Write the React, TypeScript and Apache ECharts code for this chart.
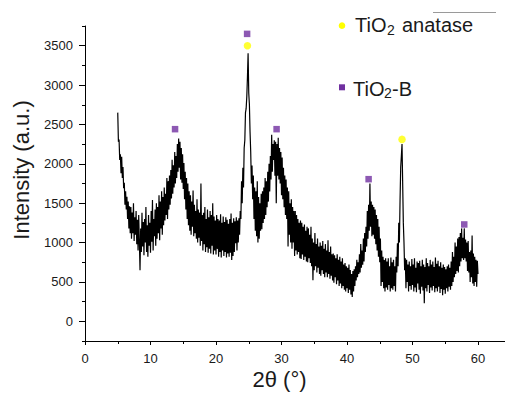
import React, { useEffect, useRef } from "react";
import * as echarts from "echarts";

// 2θ grid: START + i * STEP (degrees)
const START = 5.0;
const STEP = 0.1;

// Intensity, 10 values per degree (x.0 … x.9)
const intensity05_14: number[] = [
  2650, 2280, 2310, 2050, 2120, 1880, 2090, 1820, 1960, 1690,
  1760, 1480, 1650, 1420, 1580, 1300, 1520, 1180, 1460, 1120,
  1450, 1050, 1380, 1120, 1500, 1020, 1320, 1100, 1400, 980,
  1290, 900, 1350, 1010, 650, 1180, 880, 1380, 950, 1260,
  840, 1300, 1000, 1450, 880, 1220, 820, 1350, 960, 1250,
  870, 1400, 1010, 1540, 900, 1300, 1080, 1420, 960, 1500,
  1050, 1450, 1120, 1600, 1030, 1520, 1180, 1650, 1100, 1580,
  1220, 1700, 1280, 1620, 1350, 1820, 1300, 1780, 1420, 1850,
  1480, 1920, 1560, 2050, 1620, 1980, 1700, 2150, 1750, 2100,
  1820, 2250, 1900, 2320, 1950, 2280, 1800, 2200, 1760, 2120,
];
const intensity15_24: number[] = [
  1680, 2010, 1550, 1900, 1420, 1820, 1300, 1750, 1220, 1650,
  1150, 1600, 1100, 1520, 1200, 1660, 1080, 1480, 1120, 1400,
  1050, 1550, 1000, 1420, 1060, 1380, 960, 1750, 1020, 1350,
  900, 1380, 980, 1450, 880, 1300, 940, 1420, 870, 1320,
  920, 1400, 860, 1350, 960, 1500, 850, 1330, 900, 1280,
  850, 1350, 920, 1300, 820, 1280, 880, 1360, 810, 1250,
  900, 1330, 830, 1260, 880, 1320, 810, 1290, 860, 1240,
  820, 1300, 870, 1370, 780, 1250, 830, 1310, 880, 1270,
  990, 1320, 900, 1280, 1000, 1310, 1100, 1400, 1300, 1780,
  1500, 1950, 1700, 2200, 2300, 2650, 2700, 2850, 3100, 3405,
];
const intensity25_34: number[] = [
  2900, 2750, 2400, 2150, 1750, 1980, 1550, 1850, 1300, 1700,
  1150, 1650, 1080, 1780, 1000, 1580, 1050, 1500, 1150, 1620,
  1170, 1650, 1250, 1700, 1300, 1820, 1350, 1780, 1450, 1900,
  1520, 2000, 1650, 2100, 1800, 2370, 1900, 2250, 2050, 2300,
  1850, 2280, 1500, 2250, 1850, 2330, 1800, 2200, 1750, 2150,
  1600, 2080, 1550, 1950, 1450, 1850, 1350, 1800, 1300, 1700,
  950, 1650, 1100, 1500, 1000, 1550, 920, 1450, 1000, 1400,
  830, 1400, 900, 1350, 850, 1300, 880, 1250, 800, 1280,
  790, 1250, 850, 1200, 780, 1230, 820, 1150, 760, 1200,
  750, 1180, 800, 1100, 740, 1200, 700, 1050, 520, 1000,
];
const intensity35_44: number[] = [
  650, 1120, 700, 980, 620, 1050, 680, 950, 600, 1000,
  580, 960, 650, 1020, 600, 920, 560, 980, 620, 900,
  560, 1030, 600, 880, 540, 950, 580, 850, 520, 860,
  490, 840, 560, 800, 470, 850, 520, 780, 450, 820,
  480, 760, 420, 800, 450, 720, 400, 740, 380, 700,
  420, 680, 360, 720, 400, 650, 340, 600, 310, 640,
  380, 660, 450, 700, 520, 780, 560, 750, 600, 850,
  620, 980, 680, 900, 720, 1050, 760, 1120, 880, 1200,
  950, 1400, 1050, 1480, 1150, 1750, 1200, 1520, 1080, 1480,
  1100, 1450, 1050, 1420, 980, 1350, 900, 1300, 820, 1200,
];
const intensity45_54: number[] = [
  750, 1050, 450, 900, 500, 820, 420, 780, 380, 800,
  430, 760, 400, 800, 460, 700, 380, 810, 420, 750,
  400, 780, 450, 700, 380, 820, 620, 990, 700, 1250,
  1000, 1540, 1960, 2100, 2250, 1750, 1250, 1000, 650, 800,
  420, 780, 500, 720, 380, 760, 450, 700, 400, 790,
  460, 720, 380, 800, 430, 680, 370, 760, 480, 740,
  400, 770, 350, 700, 440, 780, 390, 720, 230, 690,
  420, 800, 380, 740, 460, 700, 360, 780, 430, 720,
  390, 760, 450, 690, 370, 810, 420, 730, 380, 770,
  440, 700, 360, 750, 410, 680, 330, 720, 400, 690,
];
const intensity55_60: number[] = [
  350, 660, 420, 700, 380, 720, 440, 680, 400, 760,
  450, 880, 500, 820, 560, 1000, 600, 950, 640, 1050,
  620, 1070, 700, 1120, 760, 1180, 800, 1060, 780, 1180,
  800, 1040, 760, 1000, 640, 1020, 620, 880, 500, 900,
  560, 1090, 480, 860, 450, 820, 500, 780, 440, 770,
  600,
];

// Peak markers [2θ, intensity]
const tio2B: [number, number][] = [
  [13.75, 2440],
  [24.75, 3650],
  [29.25, 2440],
  [43.3, 1805],
  [57.9, 1230],
];
const anatase: [number, number][] = [
  [24.8, 3500],
  [48.4, 2310],
];

// Axis ticks / labels
const Y_MAJOR = [0, 500, 1000, 1500, 2000, 2500, 3000, 3500];
const X_LABELS = [0, 10, 20, 30, 40, 50, 60];

const PURPLE = "#7030A0";
const YELLOW = "#FFFF00";
const FONT = '"Liberation Sans", Arial, sans-serif';

export default function App() {
  const ref = useRef<HTMLDivElement>(null);

  useEffect(() => {
    if (!ref.current) return;
    const chart = echarts.init(ref.current, undefined, { renderer: "svg" });

    const values = [
      ...intensity05_14,
      ...intensity15_24,
      ...intensity25_34,
      ...intensity35_44,
      ...intensity45_54,
      ...intensity55_60,
    ];
    const pattern = values.map((v, i) => [
      Math.round((START + i * STEP) * 10) / 10,
      v,
    ]);

    const axisColor = "#000";
    const labelColor = "#1a1a1a";

    chart.setOption({
      animation: false,
      grid: {
        left: 85,
        top: 26,
        width: 458.5,
        height: 315,
        containLabel: false,
        outerBoundsMode: "none",
      },
      xAxis: {
        type: "value",
        min: 0,
        max: 70,
        interval: 10,
        axisLine: { show: true, onZero: false, lineStyle: { color: axisColor, width: 1 } },
        axisTick: { show: true, inside: false, length: 4, lineStyle: { color: axisColor } },
        minorTick: { show: true, splitNumber: 2, length: 3, lineStyle: { color: axisColor } },
        splitLine: { show: false },
        minorSplitLine: { show: false },
        axisLabel: {
          margin: 11,
          fontSize: 13,
          fontFamily: FONT,
          color: labelColor,
          formatter: (v: number) => (X_LABELS.indexOf(v) >= 0 ? String(v) : ""),
        },
      },
      yAxis: [
        {
          type: "value",
          min: -250,
          max: 3750,
          position: "left",
          axisLine: { show: true, onZero: false, lineStyle: { color: axisColor, width: 1 } },
          axisTick: { show: true, length: 6, customValues: Y_MAJOR, lineStyle: { color: axisColor } },
          splitLine: { show: false },
          axisLabel: {
            customValues: Y_MAJOR,
            margin: 12,
            fontSize: 13,
            fontFamily: FONT,
            color: labelColor,
            formatter: (v: number) => String(v),
          },
        },
        {
          type: "value",
          min: -250,
          max: 3750,
          interval: 250,
          position: "left",
          axisLine: { show: false },
          axisTick: { show: true, length: 3, lineStyle: { color: axisColor } },
          axisLabel: { show: false },
          splitLine: { show: false },
        },
      ],
      series: [
        {
          type: "line",
          data: pattern,
          showSymbol: false,
          symbol: "none",
          lineStyle: { color: "#000", width: 1.2 },
          z: 2,
        },
        {
          type: "scatter",
          data: tio2B,
          symbol: "rect",
          symbolSize: 6.5,
          itemStyle: { color: PURPLE },
          z: 3,
        },
        {
          type: "scatter",
          data: anatase,
          symbol: "circle",
          symbolSize: 7.5,
          itemStyle: { color: YELLOW },
          z: 3,
        },
      ],
      graphic: [
        {
          type: "text",
          x: 21.5,
          y: 170,
          rotation: Math.PI / 2,
          style: {
            text: "Intensity (a.u.)",
            font: `22px ${FONT}`,
            fill: "#1a1a1a",
            align: "center",
            verticalAlign: "middle",
          },
        },
        {
          type: "text",
          x: 279.5,
          y: 379,
          style: {
            text: "2θ (°)",
            font: `22px ${FONT}`,
            fill: "#1a1a1a",
            align: "center",
            verticalAlign: "middle",
          },
        },
        {
          type: "line",
          shape: { x1: 433, y1: 12.5, x2: 496, y2: 12.5 },
          style: { stroke: "#9a9a9a", lineWidth: 1 },
        },
        {
          type: "circle",
          shape: { cx: 342, cy: 25.7, r: 3.3 },
          style: { fill: YELLOW },
        },
        { type: "text", x: 355, y: 25.4, style: { text: "TiO", font: `20px ${FONT}`, fill: "#1a1a1a", align: "left", verticalAlign: "middle" } },
        { type: "text", x: 387, y: 29.5, style: { text: "2", font: `14px ${FONT}`, fill: "#1a1a1a", align: "left", verticalAlign: "middle" } },
        { type: "text", x: 402, y: 25.4, style: { text: "anatase", font: `20px ${FONT}`, fill: "#1a1a1a", align: "left", verticalAlign: "middle" } },
        {
          type: "rect",
          shape: { x: 339, y: 84.3, width: 6, height: 6 },
          style: { fill: PURPLE },
        },
        { type: "text", x: 353, y: 88.8, style: { text: "TiO", font: `20px ${FONT}`, fill: "#1a1a1a", align: "left", verticalAlign: "middle" } },
        { type: "text", x: 384, y: 92.9, style: { text: "2", font: `14px ${FONT}`, fill: "#1a1a1a", align: "left", verticalAlign: "middle" } },
        { type: "text", x: 392, y: 88.8, style: { text: "-B", font: `20px ${FONT}`, fill: "#1a1a1a", align: "left", verticalAlign: "middle" } },
      ],
    });

    return () => chart.dispose();
  }, []);

  return (
    <div
      ref={ref}
      style={{ position: "absolute", left: 0, top: 0, width: 505, height: 394, overflow: "hidden", background: "#fff" }}
    />
  );
}
